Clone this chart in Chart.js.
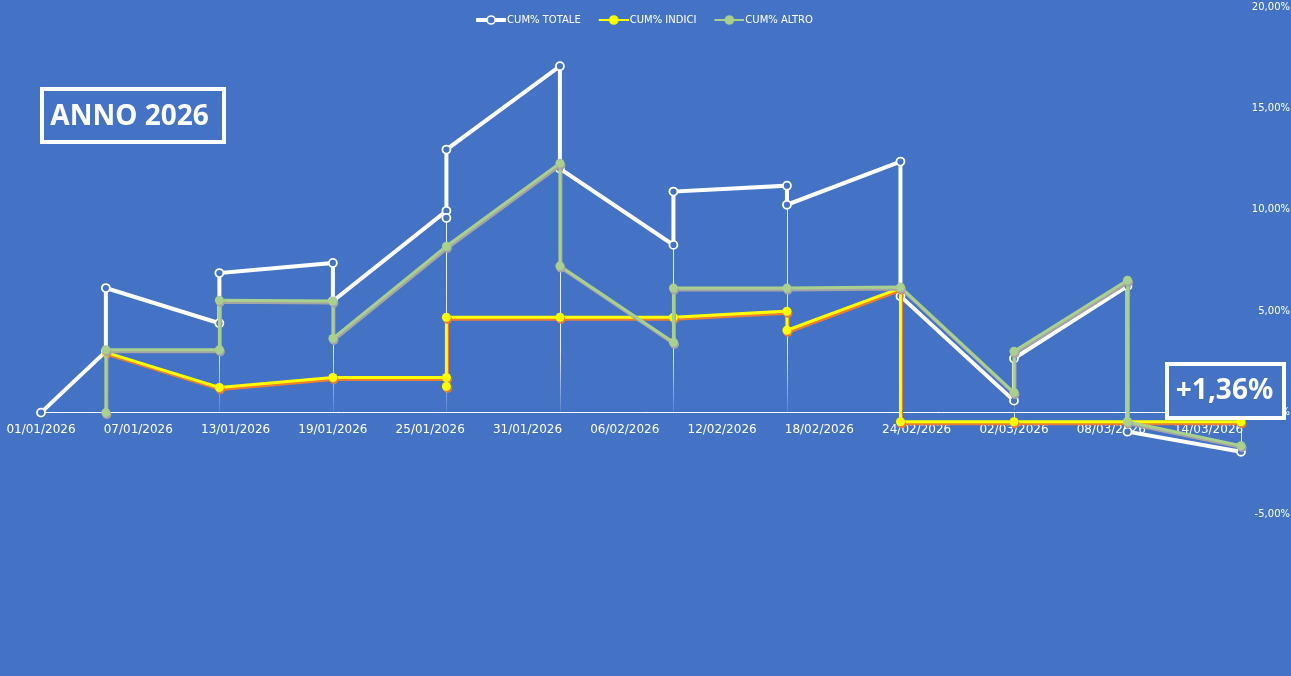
<!DOCTYPE html>
<html>
<head>
<meta charset="utf-8">
<title>Anno 2026</title>
<script src="https://cdn.jsdelivr.net/npm/chart.js@4.4.1/dist/chart.umd.min.js"></script>
<style>
    html, body { margin: 0; padding: 0; background: #4472C4; }
    #cumChart { display: block; background: #4472C4; }
</style>
</head>
<body>
<canvas id="cumChart" width="1291" height="676"></canvas>
<script>
// x values are days counted from 01/01/2026
const tickDays = [0, 6, 12, 18, 24, 30, 36, 42, 48, 54, 60, 66, 72];
const yTicks = [-5, 0, 5, 10, 15, 20];

const totaleDays   = [0, 4, 4, 11, 11, 18, 18, 25, 25, 25, 32, 32, 39, 39, 46, 46, 53, 53, 60, 60, 67, 67, 74];
const totaleValues = [0, 3.02, 6.14, 4.41, 6.88, 7.38, 5.50, 9.95, 9.60, 12.97, 17.08, 12.03, 8.27, 10.90, 11.19, 10.25, 12.38, 5.74, 0.59, 2.67, 6.24, -0.94, -1.93];

const indiciDays   = [4, 11, 18, 25, 25, 25, 32, 39, 46, 46, 53, 53, 60, 67, 74];
const indiciValues = [2.97, 1.24, 1.73, 1.73, 1.29, 4.70, 4.70, 4.70, 5.00, 4.06, 6.14, -0.45, -0.45, -0.45, -0.45];

const altroDays   = [4, 4, 11, 11, 18, 18, 25, 32, 32, 39, 39, 46, 53, 60, 60, 67, 67, 74];
const altroValues = [0, 3.10, 3.10, 5.54, 5.50, 3.66, 8.20, 12.30, 7.23, 3.47, 6.14, 6.14, 6.19, 0.99, 3.02, 6.53, -0.45, -1.63];

const BG = "#4472C4";

function toPoints(days, values) {
    return days.map((d, i) => ({ x: d, y: values[i] }));
}

function fmtDay(v) {
    const d = new Date(2026, 0, 1 + v);
    const p = n => String(n).padStart(2, "0");
    return p(d.getDate()) + "/" + p(d.getMonth() + 1) + "/" + d.getFullYear();
}

// small line+marker icons for the legend
function legendIcon(lineColor, lineWidth, fill, stroke) {
    const c = document.createElement("canvas");
    c.width = 44;
    c.height = 12;
    const g = c.getContext("2d");
    g.strokeStyle = lineColor;
    g.lineWidth = lineWidth;
    g.beginPath();
    g.moveTo(14, 6);
    g.lineTo(44, 6);
    g.stroke();
    g.beginPath();
    g.arc(29, 6, 4, 0, Math.PI * 2);
    g.fillStyle = fill;
    g.fill();
    g.lineWidth = 1.6;
    g.strokeStyle = stroke;
    g.stroke();
    return c;
}

const legendIcons = [
    legendIcon("#FFFFFF", 4, BG, "#FFFFFF"),
    legendIcon("#FFFF00", 2, "#FFFF00", "#FFFF00"),
    legendIcon("#A9D08E", 2, "#A9D08E", "#A9D08E")
];

// legend sits over the plot, so it should not push the plot down
const flatLegend = {
    id: "flatLegend",
    beforeLayout(chart) {
        const lg = chart.legend;
        if (lg && !lg._flat) {
            const fit = lg.fit.bind(lg);
            lg.fit = function () {
                fit();
                this._fullHeight = this.height;
                this.height = 0;
            };
            lg._flat = true;
        }
    },
    afterLayout(chart) {
        const lg = chart.legend;
        if (lg && lg._fullHeight) {
            lg.height = lg._fullHeight;
            lg.bottom = lg.top + lg._fullHeight;
            lg.left -= 26;
            lg.right -= 26;
        }
    }
};

// thin fading lines dropped from each date to the axis
const dropLines = {
    id: "dropLines",
    beforeDatasetsDraw(chart) {
        const { ctx, chartArea, scales: { x, y } } = chart;
        const byDay = {};
        chart.data.datasets.forEach(ds => {
            ds.data.forEach(p => {
                const r = byDay[p.x] || (byDay[p.x] = { hi: -Infinity, lo: Infinity });
                r.hi = Math.max(r.hi, p.y);
                r.lo = Math.min(r.lo, p.y);
            });
        });
        const zeroY = y.getPixelForValue(0);
        const grad = ctx.createLinearGradient(0, chartArea.top, 0, zeroY);
        grad.addColorStop(0, "rgba(255,255,255,0.95)");
        grad.addColorStop(0.85, "rgba(255,255,255,0.85)");
        grad.addColorStop(1, "rgba(255,255,255,0.1)");
        ctx.save();
        ctx.lineWidth = 1;
        Object.keys(byDay).forEach(k => {
            const r = byDay[k];
            const px = Math.round(x.getPixelForValue(Number(k))) + 0.5;
            if (r.hi > 0) {
                ctx.strokeStyle = grad;
                ctx.beginPath();
                ctx.moveTo(px, y.getPixelForValue(r.hi));
                ctx.lineTo(px, zeroY);
                ctx.stroke();
            }
            if (r.lo < 0) {
                ctx.strokeStyle = "rgba(255,255,255,0.85)";
                ctx.beginPath();
                ctx.moveTo(px, y.getPixelForValue(Math.min(r.hi, 0)));
                ctx.lineTo(px, y.getPixelForValue(r.lo));
                ctx.stroke();
            }
        });
        ctx.restore();
    }
};

// offset shadow under the yellow and green lines
const lineShadow = {
    id: "lineShadow",
    beforeDatasetDraw(chart, args) {
        const ds = chart.data.datasets[args.index];
        const ctx = chart.ctx;
        ctx.save();
        if (ds.shadowTint) {
            ctx.shadowColor = ds.shadowTint;
            ctx.shadowOffsetX = 1;
            ctx.shadowOffsetY = 2;
            ctx.shadowBlur = 0;
        }
    },
    afterDatasetDraw(chart) {
        chart.ctx.restore();
    }
};

// the two framed labels
const framedLabels = {
    id: "framedLabels",
    afterDraw(chart) {
        const ctx = chart.ctx;
        const boxes = [
            { text: "ANNO 2026", x: 42, y: 89, w: 182, h: 53, tx: 129.5, ty: 125 },
            { text: "+1,36%", x: 1167, y: 364, w: 117, h: 54, tx: 1224.5, ty: 399 }
        ];
        ctx.save();
        boxes.forEach(b => {
            ctx.fillStyle = BG;
            ctx.fillRect(b.x, b.y, b.w, b.h);
            ctx.lineWidth = 4;
            ctx.strokeStyle = "#FFFFFF";
            ctx.strokeRect(b.x, b.y, b.w, b.h);
            ctx.fillStyle = "#FFFFFF";
            ctx.font = "bold 28px 'Noto Sans'";
            ctx.textAlign = "center";
            ctx.textBaseline = "alphabetic";
            ctx.fillText(b.text, b.tx, b.ty);
        });
        ctx.restore();
    }
};

Chart.defaults.font.family = "'DejaVu Sans'";
Chart.defaults.color = "#FFFFFF";

const cumCtx = document.getElementById("cumChart");

new Chart(cumCtx, {
    type: "line",
    data: {
        datasets: [
            {
                label: "CUM% TOTALE",
                data: toPoints(totaleDays, totaleValues),
                borderColor: "#FFFFFF",
                backgroundColor: BG,
                borderWidth: 4,
                pointRadius: 4,
                pointBorderWidth: 1.8,
                pointBackgroundColor: BG,
                pointBorderColor: "#FFFFFF",
                order: 3,
                clip: false
            },
            {
                label: "CUM% INDICI",
                data: toPoints(indiciDays, indiciValues),
                borderColor: "#FFFF00",
                backgroundColor: "#FFFF00",
                borderWidth: 3,
                pointRadius: 4.5,
                pointBorderWidth: 0,
                pointBackgroundColor: "#FFFF00",
                shadowTint: "#ED7D31",
                order: 2,
                clip: false
            },
            {
                label: "CUM% ALTRO",
                data: toPoints(altroDays, altroValues),
                borderColor: "#A9D08E",
                backgroundColor: "#A9D08E",
                borderWidth: 3,
                pointRadius: 4.5,
                pointBorderWidth: 0,
                pointBackgroundColor: "#A9D08E",
                shadowTint: "#A5A5A5",
                order: 1,
                clip: false
            }
        ]
    },
    options: {
        responsive: false,
        animation: false,
        events: [],
        layout: {
            autoPadding: false,
            padding: { left: 41, right: 1, top: 7, bottom: 162 }
        },
        plugins: {
            legend: {
                position: "top",
                align: "center",
                labels: {
                    usePointStyle: true,
                    pointStyleWidth: 36,
                    padding: 8,
                    color: "#FFFFFF",
                    font: { size: 10 },
                    sort: (a, b) => a.datasetIndex - b.datasetIndex,
                    generateLabels(chart) {
                        const items = Chart.defaults.plugins.legend.labels.generateLabels(chart);
                        items.forEach(it => { it.pointStyle = legendIcons[it.datasetIndex]; });
                        return items;
                    }
                }
            },
            tooltip: { enabled: false }
        },
        scales: {
            x: {
                type: "linear",
                position: { y: 0 },
                min: 0,
                max: 74,
                afterBuildTicks: axis => {
                    axis.ticks = tickDays.map(v => ({ value: v }));
                },
                afterFit: axis => {
                    axis.paddingLeft = 0;
                    axis.paddingRight = 0;
                },
                grid: { display: false, drawTicks: false },
                border: { display: true, color: "#FFFFFF", width: 1 },
                ticks: {
                    autoSkip: false,
                    maxRotation: 0,
                    padding: 10,
                    color: "#FFFFFF",
                    font: { size: 12 },
                    callback: v => fmtDay(v)
                }
            },
            y: {
                position: "right",
                min: -5,
                max: 20,
                afterBuildTicks: axis => {
                    axis.ticks = yTicks.map(v => ({ value: v }));
                },
                afterFit: axis => {
                    axis.paddingTop = 0;
                    axis.paddingBottom = 0;
                    axis.width = 49;
                },
                grid: { display: false, drawTicks: false },
                border: { display: false },
                ticks: {
                    padding: 9,
                    crossAlign: "far",
                    color: "#FFFFFF",
                    font: { size: 10 },
                    callback: v => v.toFixed(2).replace(".", ",") + "%"
                }
            }
        }
    },
    plugins: [flatLegend, dropLines, lineShadow, framedLabels]
});
</script>
</body>
</html>
